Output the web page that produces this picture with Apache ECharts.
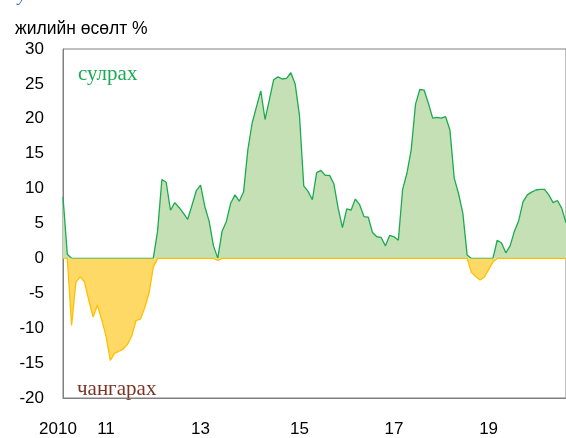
<!DOCTYPE html>
<html>
<head>
<meta charset="utf-8">
<script src="https://cdn.jsdelivr.net/npm/echarts@6/dist/echarts.min.js"></script>
<style>
  html, body { margin: 0; padding: 0; background: #fff; }
  #chart { width: 566px; height: 438px; }
</style>
</head>
<body>
<div id="chart"></div>
<script>
// жилийн өсөлт, %
const values = [
  8.8, 0.6, -9.6, -3.4, -2.6, -3.4, -6.0, -8.4, -6.7, -8.8,
  -11.1, -14.6, -13.6, -13.3, -13.0, -12.3, -11.1, -8.9, -8.7, -7.1,
  -5.0, -1.3, 3.9, 11.3, 10.9, 6.9, 8.0, 7.3, 6.5, 5.6,
  7.6, 9.7, 10.5, 7.4, 5.3, 1.8, -0.3, 3.9, 5.3, 7.9,
  9.1, 8.2, 9.5, 15.6, 19.4, 21.7, 24.0, 19.9, 22.7, 25.6,
  26.0, 25.7, 25.8, 26.6, 25.0, 20.5, 10.4, 9.6, 8.4, 12.3,
  12.6, 11.9, 11.9, 10.7, 7.2, 4.4, 7.1, 6.9, 8.5, 7.7,
  6.0, 5.9, 3.7, 3.1, 3.0, 1.8, 3.3, 3.1, 2.6, 9.9,
  12.2, 15.6, 22.1, 24.2, 24.1, 22.2, 20.1, 20.2, 20.1, 20.3,
  18.4, 11.5, 9.3, 6.5, 0.5, -2.0, -2.6, -3.1, -2.7, -1.6,
  -0.5, 2.6, 2.2, 0.8, 1.8, 3.9, 5.4, 8.1, 9.1, 9.5,
  9.8, 9.9, 9.9, 9.1, 8.0, 8.3, 7.2, 5.1
]

// one category per observation
const categories = values.map((v, i) => String(i))

// x tick labels and the observation they sit under
const tickIndex = [0, 10, 32, 55, 77, 99]
const tickText = ['2010', '11', '13', '15', '17', '19']

// split into the easing (above 0) and tightening (below 0) parts
const upVals = values.map(v => (v > 0 ? v : 0))
const downVals = values.map(v => (v < 0 ? v : 0))

const sans = '"Liberation Sans", Arial, sans-serif'

const chart = echarts.init(document.getElementById('chart'))

const option = {
  animation: false,
  textStyle: { fontFamily: sans },
  grid: {
    left: 63,
    top: 49,
    right: -1,
    bottom: 36,
    show: true,
    borderColor: '#808080',
    borderWidth: 1
  },
  title: {
    text: 'жилийн өсөлт %',
    left: 10,
    top: 15,
    textStyle: { fontSize: 17.5, fontWeight: 'normal', color: '#000', fontFamily: sans }
  },
  xAxis: {
    type: 'category',
    data: categories,
    boundaryGap: false,
    axisLine: { onZero: false, lineStyle: { color: '#808080' } },
    axisTick: { show: false },
    axisLabel: {
      interval: (index) => tickIndex.includes(index),
      formatter: (value, index) => {
        const k = tickIndex.indexOf(index)
        if (k < 0) return ''
        return k === 0 ? '{a|' + tickText[k] + '}' : tickText[k]
      },
      rich: { a: { fontSize: 17, color: '#000', fontFamily: sans, padding: [0, 10, 0, 0] } },
      fontSize: 17,
      color: '#000',
      margin: 23
    },
    splitLine: { show: false }
  },
  yAxis: {
    type: 'value',
    min: -20,
    max: 30,
    interval: 5,
    axisLine: { show: true, lineStyle: { color: '#808080' } },
    axisTick: { show: false },
    axisLabel: { fontSize: 17, color: '#000', margin: 19 },
    splitLine: { show: false }
  },
  series: [
    {
      name: 'сулрах',
      type: 'line',
      data: upVals,
      showSymbol: false,
      lineStyle: { color: '#1aab50', width: 1.3 },
      areaStyle: { color: '#c5e0b4', opacity: 1 },
      z: 2
    },
    {
      name: 'чангарах',
      type: 'line',
      data: downVals,
      showSymbol: false,
      lineStyle: { color: '#ffc000', width: 1.3 },
      areaStyle: { color: '#ffd966', opacity: 1 },
      z: 3
    }
  ],
  graphic: [
    {
      type: 'text',
      left: 18,
      top: -13,
      style: { text: 'у', font: 'italic 18px "Liberation Serif", serif', fill: '#4472c4' }
    },
    {
      type: 'text',
      left: 78,
      top: 64,
      style: { text: 'сулрах', font: '21px "Liberation Serif", serif', fill: '#1aab50' }
    },
    {
      type: 'text',
      left: 77,
      top: 379,
      style: { text: 'чангарах', font: '21px "Liberation Serif", serif', fill: '#7b3526' }
    }
  ]
}

chart.setOption(option)
window.addEventListener('resize', () => chart.resize())
</script>
</body>
</html>
